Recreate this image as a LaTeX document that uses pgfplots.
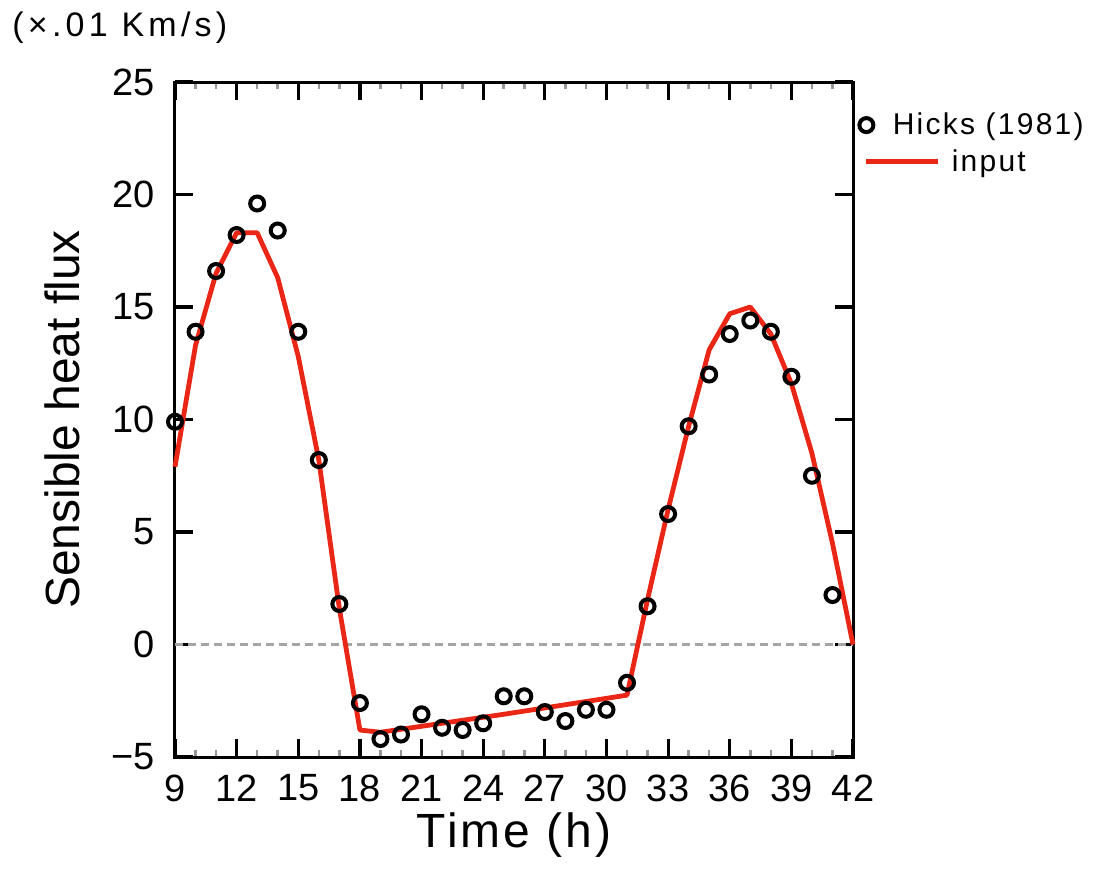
\documentclass[border=0pt]{standalone}
\usepackage{pgfplots}
\pgfplotsset{compat=1.18}
\usepackage{fontspec}
\setmainfont{Liberation Sans}
\newfontfamily\unitfont[LetterSpace=12.5]{Liberation Sans}
\newfontfamily\labfont[LetterSpace=6]{Liberation Sans}
\newfontfamily\legfont[LetterSpace=7.5]{Liberation Sans}
\definecolor{inred}{RGB}{234,38,22}
\definecolor{zgray}{RGB}{165,165,165}
\definecolor{mgray}{RGB}{150,150,150}

\pgfplotsset{
    circle legend/.style={legend image code/.code={\draw[##1] plot coordinates {(0pt,0pt)};}},
    wide line legend/.style={legend image code/.code={\draw[##1] (0pt,0pt) -- (36pt,0pt);}},
}

\begin{document}
\begin{tikzpicture}
\begin{axis}[
    scale only axis,
    width=339pt, height=337.5pt,
    xmin=9, xmax=42, ymin=-5, ymax=25,
    xtick={9,12,...,42},
    minor x tick num=2,
    ytick={-5,0,5,10,15,20,25},
    yticklabels={−5,0,5,10,15,20,25},
    tick align=inside,
    major tick length=9pt,
    minor tick length=3.5pt,
    every major tick/.append style={line width=1.6pt, black},
    every minor tick/.append style={line width=1.3pt, mgray},
    axis line style={line width=1.5pt},
    /pgf/number format/assume math mode=true,
    ticklabel style={font=\fontsize{19}{22}\selectfont, inner sep=0pt},
    xticklabel style={anchor=center, yshift=-15.5pt},
    yticklabel style={anchor=east, xshift=-10pt},
    xlabel={Time (h)},
    ylabel={Sensible heat flux},
    xlabel style={font=\labfont\fontsize{24}{28}\selectfont,
        at={(axis description cs:0.5,-0.1156)}, anchor=center},
    ylabel style={font=\fontsize{24}{28}\selectfont,
        at={(axis description cs:-0.1667,0.5)}, anchor=center},
    clip=false,
    legend style={at={(axis description cs:1.0088,0.961)}, anchor=north west,
        draw=none, fill=none, inner sep=0pt,
        font=\legfont\fontsize{15}{18}\selectfont, row sep=2pt,
        /tikz/every odd column/.append style={column sep=3.5pt}},
    legend cell align=left,
]
% zero reference line
\addplot[zgray, line width=1.2pt, dash pattern=on 4pt off 2.5pt, forget plot]
    coordinates {(9,0) (42,0)};

\addplot[only marks, mark=o, mark size=3.5pt, line width=2pt, black, circle legend]
    coordinates {
    (9,9.9) (10,13.9) (11,16.6) (12,18.2) (13,19.6) (14,18.4) (15,13.9)
    (16,8.2) (17,1.8) (18,-2.6) (19,-4.2) (20,-4.0) (21,-3.1) (22,-3.7)
    (23,-3.8) (24,-3.5) (25,-2.3) (26,-2.3) (27,-3.0) (28,-3.4) (29,-2.9)
    (30,-2.9) (31,-1.7) (32,1.7) (33,5.8) (34,9.7) (35,12.0) (36,13.8)
    (37,14.4) (38,13.9) (39,11.9) (40,7.5) (41,2.2)
    };
\addlegendentry{\hspace*{-29.5pt}Hicks (1981)}

\addplot[inred, line width=2.4pt, line join=round, wide line legend]
    coordinates {
    (9,7.9) (10,13.3) (11,16.5) (12,18.3) (13,18.3) (14,16.3) (15,12.8)
    (16,8.2) (17,1.6) (18,-3.8) (19,-3.9) (25,-3.1) (31,-2.25)
    (32,2.0) (33,6.0) (34,9.7) (35,13.1) (36,14.7) (37,15.0) (38,13.8)
    (39,11.6) (40,8.5) (41,4.5) (42,0.0)
    };
\addlegendentry{input}

\node[anchor=west, inner sep=0pt, font=\unitfont\fontsize{17}{20}\selectfont]
    at (axis description cs:-0.2404,1.08) {(×.01 Km/s)};

% page extent
\path (rel axis cs:-0.2581,-0.1659) rectangle (rel axis cs:1.3864,1.1215);
\end{axis}
\end{tikzpicture}
\end{document}
